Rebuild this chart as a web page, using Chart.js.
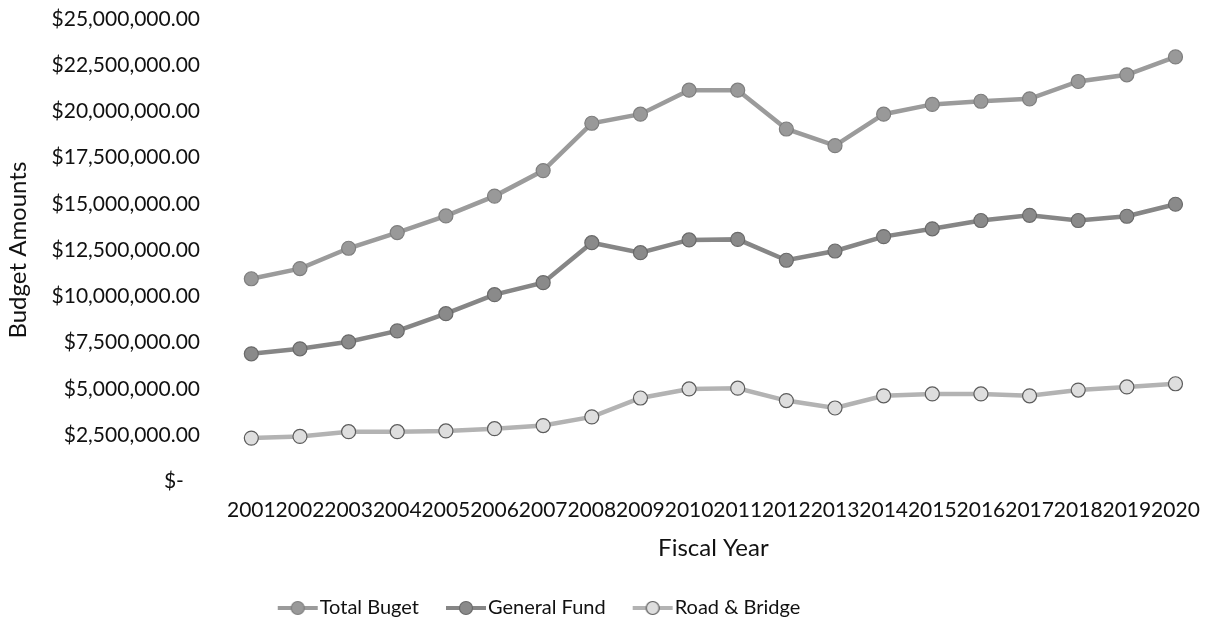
<!DOCTYPE html>
<html>
<head>
<meta charset="utf-8">
<title>Budget Amounts per Fiscal Year</title>
<script src="https://cdn.jsdelivr.net/npm/chart.js@4.4.0/dist/chart.umd.min.js"></script>
<style>
  html, body { margin: 0; padding: 0; background: #fff; }
  #wrap { width: 1208px; height: 632px; position: relative; }
</style>
</head>
<body>
<div id="wrap"><canvas id="budgetChart"></canvas></div>
<script>
// Budget data per fiscal year
const fiscalYears = ['2001', '2002', '2003', '2004', '2005', '2006', '2007', '2008', '2009', '2010',
                     '2011', '2012', '2013', '2014', '2015', '2016', '2017', '2018', '2019', '2020'];
const totalBudget = [10950000, 11500000, 12600000, 13450000, 14350000, 15420000, 16800000, 19360000, 19850000, 21150000,
                     21150000, 19050000, 18150000, 19850000, 20380000, 20550000, 20680000, 21620000, 21980000, 22950000];
const generalFund = [6890000, 7160000, 7540000, 8130000, 9060000, 10090000, 10740000, 12900000, 12360000, 13050000,
                     13080000, 11950000, 12450000, 13230000, 13650000, 14100000, 14380000, 14100000, 14330000, 14980000];
const roadBridge = [2330000, 2420000, 2680000, 2680000, 2720000, 2840000, 3010000, 3480000, 4500000, 4990000,
                    5030000, 4360000, 3960000, 4620000, 4720000, 4720000, 4620000, 4930000, 5100000, 5270000];
const yTickValues = [0, 2500000, 5000000, 7500000, 10000000, 12500000, 15000000, 17500000, 20000000, 22500000, 25000000];
const seriesNames = ['Total Buget', 'General Fund', 'Road & Bridge'];

const FONT = "Lato, 'Open Sans', sans-serif";
const TEXT = '#111';

// Currency format like the spreadsheet: $-  for zero
function money(v) {
    if (v === 0) return '$-   ';
    return '$' + v.toLocaleString('en-US', { minimumFractionDigits: 2, maximumFractionDigits: 2 });
}

// Legend icon: short line with a marker in the middle
function legendIcon(lineColor, fill, border) {
    const c = document.createElement('canvas');
    c.width = 42; c.height = 18;
    const ctx = c.getContext('2d');
    ctx.strokeStyle = lineColor;
    ctx.lineWidth = 4;
    ctx.beginPath(); ctx.moveTo(1, 9); ctx.lineTo(41, 9); ctx.stroke();
    ctx.beginPath(); ctx.arc(21, 9, 6.5, 0, Math.PI * 2);
    ctx.fillStyle = fill; ctx.fill();
    ctx.strokeStyle = border; ctx.lineWidth = 1.2; ctx.stroke();
    return c;
}

const styles = [
    { line: '#9b9b9b', fill: '#999999', border: '#7f7f7f' },
    { line: '#868686', fill: '#8a8a8a', border: '#6a6a6a' },
    { line: '#b3b3b3', fill: '#dedede', border: '#5c5c5c' }
];
const legendIcons = styles.map(s => legendIcon(s.line, s.fill, s.border));

// Legend sits a bit left of centre and a bit higher in the reference
const legendShift = {
    id: 'legendShift',
    afterUpdate(chart) {
        const lg = chart.legend;
        if (!lg) return;
        lg.left = 0;
        lg.right = 1086;
        lg.top -= 4;
        lg.bottom -= 4;
    }
};

const ctx = document.getElementById('budgetChart').getContext('2d');
const seriesData = [totalBudget, generalFund, roadBridge];

new Chart(ctx, {
    type: 'line',
    data: {
        labels: fiscalYears,
        datasets: seriesData.map((d, i) => ({
            label: seriesNames[i],
            data: d,
            borderColor: styles[i].line,
            borderWidth: 4.5,
            backgroundColor: styles[i].fill,
            pointBackgroundColor: styles[i].fill,
            pointBorderColor: styles[i].border,
            pointBorderWidth: 1.2,
            pointRadius: 7,
            pointHoverRadius: 7,
            tension: 0,
            fill: false
        }))
    },
    options: {
        responsive: true,
        maintainAspectRatio: false,
        animation: false,
        layout: { padding: { top: 19, right: 5, left: 2, bottom: 0 } },
        plugins: {
            tooltip: { enabled: false },
            legend: {
                position: 'bottom',
                labels: {
                    font: { family: FONT, size: 20 },
                    color: TEXT,
                    usePointStyle: true,
                    pointStyleWidth: 24,
                    padding: 35,
                    generateLabels(chart) {
                        const items = Chart.defaults.plugins.legend.labels.generateLabels(chart);
                        items.forEach((it, i) => { it.pointStyle = legendIcons[i]; });
                        return items;
                    }
                }
            }
        },
        scales: {
            x: {
                offset: true,
                grid: { display: false, drawTicks: false },
                border: { display: false },
                afterFit(scale) {
                    scale.paddingLeft = 0;
                    scale.paddingRight = 0;
                },
                ticks: {
                    font: { family: FONT, size: 21, lineHeight: 1 },
                    color: TEXT,
                    maxRotation: 0,
                    minRotation: 0,
                    autoSkip: false,
                    padding: 19
                },
                title: {
                    display: true,
                    text: 'Fiscal Year',
                    font: { family: FONT, size: 24 },
                    color: TEXT,
                    padding: { top: -6, bottom: 4 }
                }
            },
            y: {
                min: 0,
                max: 25000000,
                grid: { display: false, drawTicks: false },
                border: { display: false },
                afterBuildTicks(scale) {
                    scale.ticks = yTickValues.map(v => ({ value: v }));
                },
                afterFit(scale) {
                    scale.width = 225;
                    scale.paddingTop = 0;
                    scale.paddingBottom = 0;
                },
                ticks: {
                    font: { family: FONT, size: 21 },
                    color: TEXT,
                    padding: 27,
                    callback: v => money(v)
                },
                title: {
                    display: true,
                    text: 'Budget Amounts',
                    font: { family: FONT, size: 24 },
                    color: TEXT,
                    padding: { top: 2, bottom: 4 }
                }
            }
        }
    },
    plugins: [legendShift]
});
</script>
</body>
</html>
